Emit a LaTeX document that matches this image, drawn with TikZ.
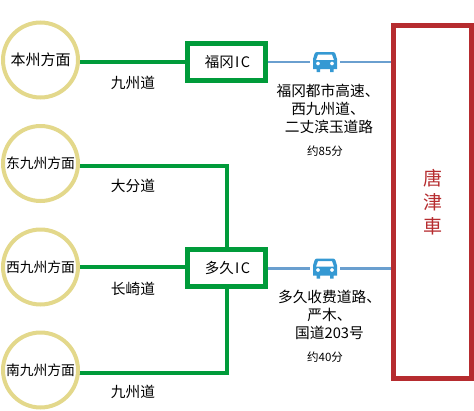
\documentclass[tikz,border=0pt]{standalone}
\usepackage{fontspec}
\setmainfont{Noto Sans CJK SC}[BoldFont=Noto Sans CJK SC]
\tikzset{
 place/.style={circle,draw=placeY,line width=4pt,fill=white,minimum size=75pt,inner sep=0pt,font=\fontsize{13.8}{14}\selectfont},
 icbox/.style={rectangle,draw=icG,line width=5pt,fill=white,minimum width=78pt,minimum height=37pt,inner sep=0pt,font=\fontsize{14.5}{14}\selectfont},
 dest/.style={rectangle,draw=destR,line width=5pt,fill=white,minimum width=78pt,minimum height=353pt,inner sep=0pt,align=center,text=destR,font=\fontsize{19}{24}\selectfont},
 road/.style={draw=icG,line width=4pt},
 exway/.style={draw=wayB,line width=2.5pt},
 lab/.style={font=\fontsize{14.7}{14}\selectfont,inner sep=0pt},
 routes/.style={align=center,inner sep=0pt,font=\fontsize{14.7}{18}\selectfont},
 timelab/.style={inner sep=0pt,font=\fontsize{11.5}{12}\selectfont},
 carspot/.style={rectangle,minimum width=30pt,minimum height=20pt,inner sep=0pt},
 pics/carsign/.style={code={
   \fill[carB,even odd rule] (-8,-10) -- (8,-10) .. controls (9.5,-10) and (10,-9) .. (10.5,-8) -- (12,-3) -- (12,7) -- (8.5,7) -- (8.5,10) -- (5,10) -- (5,7) -- (-5,7) -- (-5,10) -- (-8.5,10) -- (-8.5,7) -- (-12,7) -- (-12,-3) -- (-10.5,-8) .. controls (-10,-9) and (-9.5,-10) .. (-8,-10) -- cycle
     (-7,-7.5) -- (7,-7.5) -- (9,-2) -- (-9,-2) -- cycle
     (-7,1.5) circle (2) (7,1.5) circle (2);
 }}
}
\definecolor{placeY}{HTML}{E3D88B}
\definecolor{icG}{HTML}{009B3A}
\definecolor{destR}{HTML}{B62C2F}
\definecolor{wayB}{HTML}{6A9FCF}
\definecolor{carB}{HTML}{3599D3}
\begin{document}
\begin{tikzpicture}[x=1pt,y=-1pt]
\useasboundingbox (0,0) rectangle (474,410);
\coordinate (s1) at (78,62);
\coordinate (s2) at (78,166);
\coordinate (s3) at (78,267);
\coordinate (s4) at (78,373);
\coordinate (e1) at (391,62);
\coordinate (e2) at (391,268.5);
\node[carspot] (car1) at (325,62) {};
\node[carspot] (car2) at (325,268.5) {};
\node[icbox] (fk) at (226.5,62) {\hspace*{2pt}福冈\kern1.5pt I\kern1.5pt C};
\node[icbox] (tk) at (226.5,267.5) {\hspace*{2pt}多久\kern1.5pt I\kern1.5pt C};
\draw[road] (s1) -- (fk.west);
\draw[road] (s2) -| (tk.north);
\draw[road] (s3) -- (tk.west |- s3);
\draw[road] (s4) -| (tk.south);
\draw[exway] (fk.east) -- (car1.west);
\draw[exway] (car1.east) -- (e1);
\draw[exway] (tk.east |- car2) -- (car2.west);
\draw[exway] (car2.east) -- (e2);
\pic at (car1.center) {carsign};
\pic at (car2.center) {carsign};
\node[place] (c1) at (40.5,60) {\fontsize{15}{15}\selectfont 本州方面};
\node[place] (c2) at (40.5,163.5) {东九州方面};
\node[place] (c3) at (40.5,267) {西九州方面};
\node[place] (c4) at (40.5,370) {南九州方面};
\node[dest] (kr) at (432.5,202) {唐\\津\\車};
\node[lab] (l1) at (133,83) {九州道};
\node[lab] (l2) at (133,186) {大分道};
\node[lab] (l3) at (133,289) {长崎道};
\node[lab] (l4) at (133,392) {九州道};
\node[routes] (r1) at (328,109) {福冈都市高速、\\西九州道、\\\hspace*{2pt}二丈滨玉道路};
\node[timelab] (t1) at (325,151) {约85分};
\node[routes] (r2) at (329.5,315) {多久收费道路、\\严木、\\国道203号};
\node[timelab] (t2) at (325,357) {约40分};
\end{tikzpicture}
\end{document}
